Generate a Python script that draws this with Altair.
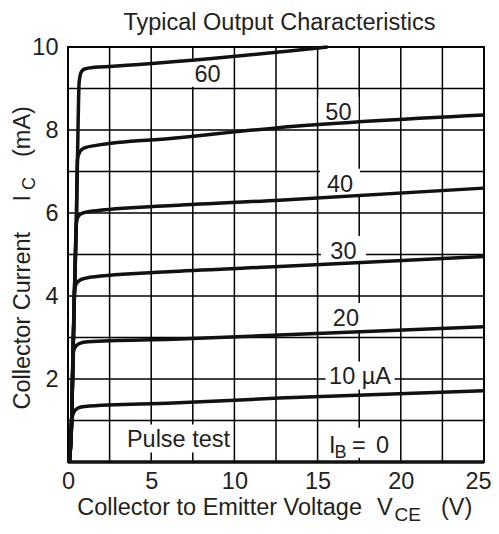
import altair as alt
import pandas as pd

# ---------------- data ----------------
# shared steep rise (saturation region) of all curves
RISE_V = [0.08, 0.22, 0.30, 0.39, 0.50, 0.57, 0.67]
RISE_I = [0.0, 1.0, 2.55, 4.12, 5.75, 7.30, 9.15]

IB_UA = [0, 10, 20, 30, 40, 50, 60]
IB0_V = [0.0, 25.0]
IB0_I = [0.0, 0.0]
TAIL_V = [
    [0.35, 0.60, 1.0, 6.3, 12.7, 25.0],
    [0.40, 0.70, 1.2, 6.3, 12.7, 25.0],
    [0.50, 0.80, 1.3, 6.3, 12.7, 25.0],
    [0.62, 0.90, 1.4, 6.3, 12.7, 25.0],
    [0.72, 1.00, 1.7, 6.3, 12.5, 25.0],
    [0.80, 1.00, 1.6, 2.5, 15.6],
]
TAIL_I = [
    [1.20, 1.30, 1.34, 1.42, 1.54, 1.72],
    [2.75, 2.86, 2.90, 2.96, 3.06, 3.26],
    [4.30, 4.40, 4.45, 4.59, 4.71, 4.95],
    [5.92, 6.00, 6.04, 6.18, 6.31, 6.60],
    [7.48, 7.57, 7.63, 7.80, 8.05, 8.36],
    [9.40, 9.47, 9.51, 9.53, 10.0],
]

LABELS = ["60", "50", "40", "30", "20", "10 µA", "Pulse test"]
LABEL_V = [8.38, 16.25, 16.35, 16.55, 16.7, 17.55, 6.64]
LABEL_I = [9.16, 8.24, 6.51, 4.89, 3.28, 1.87, 0.35]

IBZERO_V = 17.55
IBZERO_I = 0.22

X_TICKS = [0, 2.5, 5, 7.5, 10, 12.5, 15, 17.5, 20, 22.5, 25]
Y_TICKS = [0, 1, 2, 3, 4, 5, 6, 7, 8, 9, 10]

# ---------------- styles ----------------
FONT = "Liberation Sans"
TXT = "#231f20"
INK = "#000000"
FS = 23.5
BOX_W = [34, 40, 40, 45, 45, 69, 109]

# ---------------- build tables ----------------
rows = []
for k, ib in enumerate(IB_UA):
    if k == 0:
        vs, is_ = IB0_V, IB0_I
    else:
        vs = RISE_V[:k + 1] + TAIL_V[k - 1]
        is_ = RISE_I[:k + 1] + TAIL_I[k - 1]
    for n, (v, i) in enumerate(zip(vs, is_)):
        rows.append({"ib": ib, "v": v, "i": i, "o": n})
curves = pd.DataFrame(rows)

axis_x = alt.Axis(values=X_TICKS, grid=False,
                  ticks=False, domain=False, labelFont=FONT, labelFontSize=FS,
                  labelColor=TXT, labelPadding=7, labelFlush=False, labelOverlap=False,
                  labelOffset={"condition": {"test": "datum.value === 25", "value": -6}, "value": 0},
                  labelExpr="datum.value % 5 === 0 ? format(datum.value, 'd') : ''",
                  title=None)
axis_y = alt.Axis(values=Y_TICKS, grid=False,
                  ticks=False, domain=False, labelFont=FONT, labelFontSize=FS,
                  labelColor=TXT, labelPadding=10, labelFlush=False, labelOverlap=False,
                  labelExpr="datum.value % 2 === 0 && datum.value > 0 ? format(datum.value, 'd') : ''",
                  title=None)
XS = alt.Scale(domain=[0, 25], nice=False, zero=False)
YS = alt.Scale(domain=[0, 10], nice=False, zero=False)
X = alt.X("v:Q", scale=XS, axis=axis_x)
Y = alt.Y("i:Q", scale=YS, axis=axis_y)

layers = []

# grid drawn as rules
gx = pd.DataFrame({"v": X_TICKS})
gy = pd.DataFrame({"i": Y_TICKS})
layers.append(alt.Chart(gx).mark_rule(color="#000000", strokeWidth=1.5, opacity=1).encode(x=X))
layers.append(alt.Chart(gy).mark_rule(color="#000000", strokeWidth=1.5, opacity=1).encode(y=Y))


def white_box(d, w, h, cy, cx=0.0):
    # box centred cx px right and cy px above the anchor point
    return alt.Chart(d).mark_rect(
        fill="white", strokeWidth=0,
        xOffset=cx - w / 2, x2Offset=cx + w / 2,
        yOffset=cy - h / 2, y2Offset=cy + h / 2,
    ).encode(x=X, x2=alt.X2("v"), y=Y, y2=alt.Y2("i"))


# white boxes behind labels (break the grid like the reference)
for k, lab in enumerate(LABELS):
    d = pd.DataFrame({"v": [LABEL_V[k]], "i": [LABEL_I[k]]})
    layers.append(white_box(d, BOX_W[k], 28, -9))
dz = pd.DataFrame({"v": [IBZERO_V], "i": [IBZERO_I]})
layers.append(white_box(dz, 69, 30, -10, 0.5))

# curves
layers.append(
    alt.Chart(curves).mark_line(color="#111111", strokeWidth=3.5, interpolate="monotone",
                                strokeJoin="round", strokeCap="butt")
    .encode(x=X, y=Y, detail="ib:N", order="o:Q")
)

# curve labels
labels = pd.DataFrame({"v": LABEL_V, "i": LABEL_I, "t": LABELS})
layers.append(
    alt.Chart(labels).mark_text(font=FONT, fontSize=FS, color=TXT, align="center",
                                baseline="alphabetic")
    .encode(x=X, y=Y, text="t:N")
)

# I_B = 0 with subscript
for txt, dx, dy, fs in [("I", -31, 0, FS), ("B", -25.5, 5, 18), ("=", -8, 0, FS), ("0", 16, 0, FS)]:
    layers.append(
        alt.Chart(dz).mark_text(text=txt, font=FONT, fontSize=fs, color=TXT, align="left",
                                baseline="alphabetic", dx=dx, dy=dy)
        .encode(x=X, y=Y)
    )

one = pd.DataFrame({"k": [0]})


def note(txt, x, y, fs=FS, align="left", angle=0):
    kw = dict(text=txt, font=FONT, fontSize=fs, color=TXT, align=align, baseline="alphabetic")
    if angle:
        kw["angle"] = angle
    return alt.Chart(one).mark_text(**kw).encode(x=alt.value(x), y=alt.value(y))


# chart title
layers.append(note("Typical Output Characteristics", 211.5, -17, align="center"))
# x axis title
layers.append(note("Collector to Emitter Voltage", 294, 468, align="right"))
layers.append(note("V", 309, 468))
layers.append(note("CE", 326.5, 474, fs=19))
layers.append(note("(V)", 373, 468))
# y axis title (rotated)
layers.append(note("Collector Current", -38, 362.5, angle=270))
layers.append(note("I", -38, 154.5, angle=270))
layers.append(note("C", -33, 143, fs=18, angle=270))
layers.append(note("(mA)", -38, 110, angle=270))

chart = (
    alt.layer(*layers)
    .properties(width=416, height=415, autosize=alt.AutoSizeParams(type="none"),
                padding={"left": 60, "top": 39, "right": 7, "bottom": 64})
    .configure_view(stroke="#111111", strokeWidth=2)
)

chart.save("out.html", embed_options={"renderer": "svg", "actions": False})
